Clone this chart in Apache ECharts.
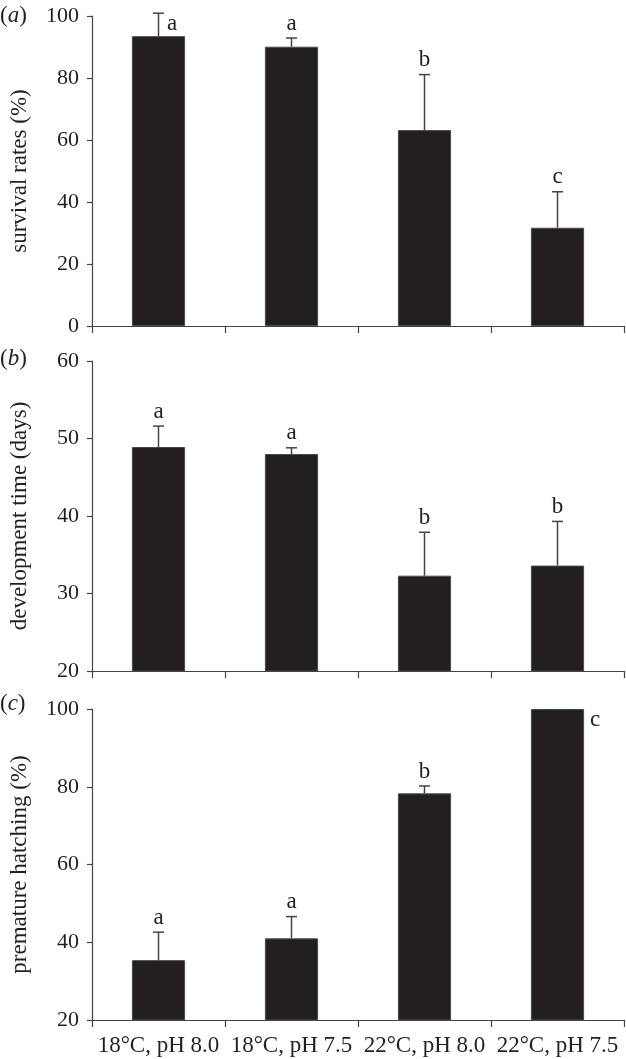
<!DOCTYPE html>
<html>
<head>
<meta charset="utf-8">
<script src="https://cdn.jsdelivr.net/npm/echarts@6/dist/echarts.min.js"></script>
<style>
html,body{margin:0;padding:0;background:#fff;}
#chart{width:626px;height:1059px;}
</style>
</head>
<body>
<div id="chart"></div>
<script>
// ---- data ----
const categories = ['18°C, pH 8.0', '18°C, pH 7.5', '22°C, pH 8.0', '22°C, pH 7.5'];

const survivalMean = [93.5, 90.1, 63.2, 31.7];
const survivalErr  = [7.4, 2.8, 17.9, 11.6];
const survivalLetters = ['a', 'a', 'b', 'c'];

const devMean = [48.9, 48.0, 32.3, 33.6];
const devErr  = [2.7, 0.8, 5.6, 5.7];
const devLetters = ['a', 'a', 'b', 'b'];

const hatchMean = [35.4, 41.0, 78.3, 100];
const hatchErr  = [7.2, 5.6, 1.9, 0];
const hatchLetters = ['a', 'a', 'b', 'c'];

const panelLabels = ['a', 'b', 'c'];
const yNames = ['survival rates (%)', 'development time (days)', 'premature hatching (%)'];
const yRanges = [[0, 100, 20], [20, 60, 10], [20, 100, 20]];

// ---- chart ----
const FONT = '"Liberation Serif", "Times New Roman", serif';
const TXT = '#231f20';
const AX = '#444444';
const BAR = '#231f20';

const chart = echarts.init(document.getElementById('chart'), null, {renderer: 'canvas'});

const grids = [
  {left: 90, right: 2, top: 16, height: 310},
  {left: 90, right: 2, top: 361, height: 310},
  {left: 90, right: 2, top: 709, height: 311}
];

const means = [survivalMean, devMean, hatchMean];
const errs = [survivalErr, devErr, hatchErr];
const letters = [survivalLetters, devLetters, hatchLetters];

const xAxes = grids.map((g, i) => ({
  type: 'category',
  gridIndex: i,
  data: categories,
  boundaryGap: true,
  axisLine: {show: true, lineStyle: {color: AX, width: 1.2}},
  axisTick: {show: true, length: 7, inside: false, lineStyle: {color: AX, width: 1.2}},
  axisLabel: {show: i === 2, color: TXT, fontFamily: FONT, fontSize: 23, margin: 14, interval: 0},
  splitLine: {show: false}
}));

const yAxes = grids.map((g, i) => ({
  type: 'value',
  gridIndex: i,
  min: yRanges[i][0],
  max: yRanges[i][1],
  interval: yRanges[i][2],
  name: yNames[i],
  nameLocation: 'middle',
  nameGap: 61,
  nameTextStyle: {color: TXT, fontFamily: FONT, fontSize: 23},
  axisLine: {show: true, lineStyle: {color: AX, width: 1.2}},
  axisTick: {show: true, length: 5, lineStyle: {color: AX, width: 1.2}},
  axisLabel: {color: TXT, fontFamily: FONT, fontSize: 22, margin: 13},
  splitLine: {show: false}
}));

const series = [];
for (let i = 0; i < 3; i++) {
  series.push({
    type: 'bar',
    xAxisIndex: i,
    yAxisIndex: i,
    data: means[i],
    barWidth: '40%',
    itemStyle: {color: BAR, borderColor: '#4a4a4a', borderWidth: 1},
    silent: true,
    z: 2
  });
  const errData = means[i].map((m, k) => [k, m, errs[i][k], letters[i][k]]);
  series.push({
    type: 'custom',
    xAxisIndex: i,
    yAxisIndex: i,
    data: errData,
    z: 3,
    silent: true,
    renderItem: function (params, api) {
      const k = api.value(0);
      const m = api.value(1);
      const e = api.value(2);
      const letter = errData[params.dataIndex][3];
      const base = api.coord([k, m]);
      const top = api.coord([k, m + e]);
      const cap = 5.5;
      const band = api.size([1, 0])[0];
      const halfBar = band * 0.2;
      const children = [];
      if (e > 0) {
        children.push({type: 'line', shape: {x1: base[0], y1: base[1], x2: top[0], y2: top[1]},
          style: {stroke: AX, lineWidth: 1.5}});
        children.push({type: 'line', shape: {x1: top[0] - cap, y1: top[1], x2: top[0] + cap, y2: top[1]},
          style: {stroke: AX, lineWidth: 1.5}});
      }
      const gridTop = params.coordSys.y;
      let tx, ty, align, valign;
      if (top[1] - 14 < gridTop) {
        // no room above: place letter to the right
        tx = e > 0 ? top[0] + cap + 3 : top[0] + halfBar + 6;
        ty = top[1] - 1;
        align = 'left';
        valign = 'top';
      } else {
        tx = top[0];
        ty = top[1] - 3;
        align = 'center';
        valign = 'bottom';
      }
      children.push({type: 'text', x: tx, y: ty,
        style: {text: letter, fill: TXT, font: '23px ' + FONT, align: align, verticalAlign: valign}});
      return {type: 'group', children: children};
    }
  });
}

const graphic = panelLabels.map((p, i) => ({
  type: 'text',
  left: 0,
  top: [4, 347, 692][i],
  style: {
    text: '(' + '{i|' + p + '})',
    font: '23px ' + FONT,
    fill: TXT,
    rich: {i: {fontStyle: 'italic', fontFamily: FONT, fontSize: 23, fill: TXT}}
  }
}));

chart.setOption({
  backgroundColor: '#ffffff',
  animation: false,
  grid: grids,
  xAxis: xAxes,
  yAxis: yAxes,
  series: series,
  graphic: graphic
});
</script>
</body>
</html>
